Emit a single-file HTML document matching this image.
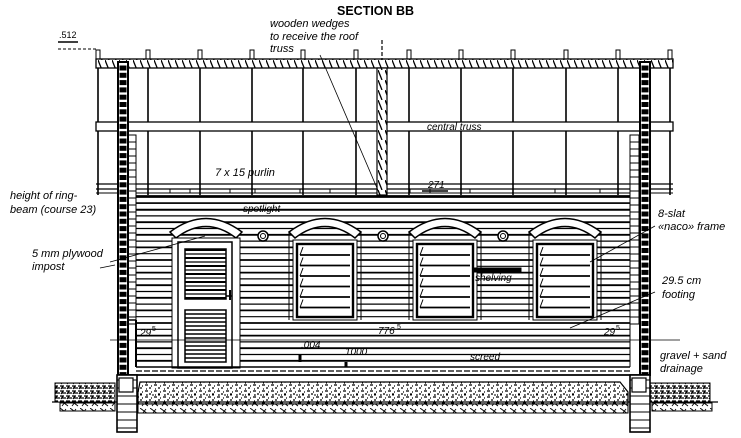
<!DOCTYPE html>
<html><head><meta charset="utf-8"><style>
html,body{margin:0;padding:0;background:#fff;width:741px;height:438px;overflow:hidden}
svg{display:block}
text{font-family:"Liberation Sans",sans-serif;font-style:italic;font-size:11px;fill:#000}
</style></head><body>
<svg id="s" width="741" height="438" viewBox="0 0 741 438" xmlns="http://www.w3.org/2000/svg">
<defs>
<pattern id="hat" width="7" height="10" patternUnits="userSpaceOnUse"><rect width="7" height="10" fill="#fff"/><path d="M0 0 L4 10" stroke="#000" stroke-width="1.3"/></pattern>
<pattern id="grv" width="9" height="6" patternUnits="userSpaceOnUse"><rect width="9" height="6" fill="#fff"/><path d="M1 1h3M5 4h2M7 2h1M2 5h1" stroke="#000" stroke-width="1.3"/></pattern>
<pattern id="soil" width="10" height="8" patternUnits="userSpaceOnUse"><rect width="10" height="8" fill="#fff"/><path d="M0 0 L8 6 M2 6 L6 1" stroke="#000" stroke-width="0.9"/></pattern>
<pattern id="bush" width="6" height="5" patternUnits="userSpaceOnUse"><rect width="6" height="5" fill="#fff"/><path d="M0 1h4M2 3h4M1 4l2-3" stroke="#000" stroke-width="1.2"/></pattern>
</defs>
<g id="g" stroke="#000" fill="none"></g>
<text x="337" y="15" style="font-style:normal;font-weight:bold;font-size:12.5px">SECTION BB</text>
<text x="270" y="27">wooden wedges</text>
<text x="270" y="40">to receive the roof</text>
<text x="270" y="52">truss</text>
<text x="59" y="38" style="font-style:normal;font-size:9px">.512</text>
<text x="10" y="199">height of ring-</text>
<text x="10" y="213">beam (course 23)</text>
<text x="32" y="257">5 mm plywood</text>
<text x="32" y="270">impost</text>
<text x="658" y="217">8-slat</text>
<text x="658" y="230">«naco» frame</text>
<text x="662" y="284">29.5 cm</text>
<text x="662" y="298">footing</text>
<text x="660" y="359">gravel + sand</text>
<text x="660" y="372">drainage</text>
</svg>
<script>
var g=document.getElementById('g'),s=document.getElementById('s');
function el(t,a,p){var e=document.createElementNS('http://www.w3.org/2000/svg',t);for(var k in a)e.setAttribute(k,a[k]);(p||g).appendChild(e);return e;}
function L(x1,y1,x2,y2,w,d){var a={x1:x1,y1:y1,x2:x2,y2:y2,'stroke-width':w||1};if(d)a['stroke-dasharray']=d;el('line',a);}
function R(x,y,w,h,sw,f){el('rect',{x:x,y:y,width:w,height:h,'stroke-width':sw||1,fill:f||'none'});}
function T(x,y,t,st){var e=el('text',{x:x,y:y},s);e.textContent=t;if(st)e.setAttribute('style',st);return e;}
L(58,42,78,42,1.5);L(58,49,88,49,1,'3,2');L(88,49,96,49,1,'3,2');
var px=[98,148,200,252,303,356,409,461,513,566,618,670];
px.forEach(function(x){L(x,50,x,195,1.6);R(x-2,50,4,9,1,'#fff');});
R(96,59,577,9,1.3,'url(#hat)');
R(96,122,577,9,1.3,'#fff');
T(427,130,'central truss','font-size:10px');
L(96,184,673,184,1.3);L(96,189,673,189,1.3);L(96,193,673,193,1);
[[130,170],[190,230],[255,300],[330,410],[430,470],[555,600]].forEach(function(r){L(r[0],189,r[0],193);L(r[1],189,r[1],193);});
T(215,176,'7 x 15 purlin');
T(428,188,'271','font-size:10px');L(422,191,448,191,1.5);
var i=0;
for(var y=197;y<=367;y+=6.3){L(136,y,630,y,(i++%2==0)?1.8:1.2);}
L(136,196,630,196,1.8);L(136,203,640,203,1.5);L(136,210,640,210,1.5);
for(var y=135;y<320;y+=7){R(128,y,8,7,1,'#fff');R(630,y,9,7,1,'#fff');}
function ladder(x,y0,y1){R(x,y0,10,y1-y0,2,'#fff');for(var y=y0+4;y<y1;y+=7.3){R(x+2,y,6,4,0,'#000');}}
ladder(118,62,375);ladder(640,62,375);
L(128,320,136,320,1.5);L(136,320,136,367,2);L(630,320,630,367,1);
R(377,68,10,127,1.2,'url(#hat)');L(382,40,382,60,1.2,'4,2');
L(320,55,380,195,0.8);
function arch(x1,x2){var c=(x1+x2)/2;
 el('path',{d:'M'+x1+' 232 Q'+c+' 205 '+x2+' 232 L'+(x2-6)+' 238 Q'+c+' 215 '+(x1+6)+' 238 Z',fill:'#fff','stroke-width':1.5});}
arch(170,242);arch(289,361);arch(409,481);arch(529,601);
R(172,238,68,130,1,'#fff');R(178,242,54,126,1.5,'#fff');
for(var y=250;y<300;y+=4){L(185,y,226,y,y%8<4?2:1.3);}
R(185,249,41,50,1.5);
for(var y=314;y<362;y+=4){L(185,y,226,y,1.6);}
R(185,310,41,52,1.5);L(230,290,230,300,2);L(226,296,232,296,1.5);
L(110,262,205,236,0.8);L(100,268,115,265,0.8);
function win(x){R(x-4,240,64,80,1,'#fff');R(x,244,56,73,2.4,'#fff');
 for(var y=255;y<316;y+=10.5){L(x+3,y,x+53,y,1.8);L(x+3,y,x+6,y-8,1);}}
win(297);win(417);win(537);
[289,361,409,481,529,601].forEach(function(x){L(x,232,x,320,1);});
[263,383,503].forEach(function(x){el('circle',{cx:x,cy:236,r:5,'stroke-width':1.5,fill:'#fff'});el('circle',{cx:x,cy:236,r:2.5,'stroke-width':1});});
R(473,268,48,4,0,'#000');T(475,281,'shelving','font-size:10px');
T(243,212,'spotlight','font-size:10px');
L(590,262,655,226,0.8);L(570,328,655,292,0.8);
T(140,336,'29','font-size:10px');T(152,331,'5','font-style:normal;font-size:7px');
T(378,334,'776','font-size:10px');T(397,329,'5','font-style:normal;font-size:7px');
T(604,335,'29','font-size:10px');T(616,330,'5','font-style:normal;font-size:7px');
L(110,340,680,340,0.8);
T(301,348,'.004','font-size:10px');L(300,354,300,362,3);
T(345,355,'1000','font-size:10px');L(346,362,346,367,3);
T(470,360,'screed','font-size:10px');
L(136,367,630,367,1.5);L(136,371,630,371,1.2,'6,2');L(128,375,650,375,1.8);
el('path',{d:'M140 382 L620 382 L628 392 L628 404 L138 404 L138 392 Z',fill:'url(#grv)','stroke-width':1.2});
L(140,395,628,395,1,'2,4');
R(138,404,490,9,0,'url(#soil)');
L(52,402,718,402,1.2);
R(55,383,60,19,0,'url(#bush)');R(650,383,60,19,0,'url(#bush)');
R(60,403,55,8,0,'url(#soil)');R(652,403,60,8,0,'url(#soil)');
function foot(x){R(x,375,20,57,1.6,'#fff');for(var y=380;y<432;y+=8){L(x,y,x+20,y,1);}R(x+2,378,14,14,1.2,'#fff');}
foot(117);foot(630);
</script>
</body></html>
